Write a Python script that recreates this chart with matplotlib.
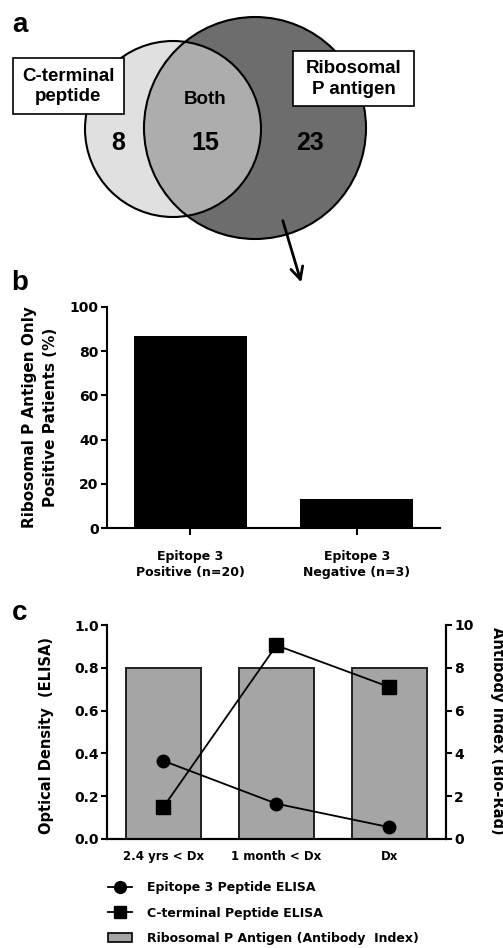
import numpy as np
import matplotlib.pyplot as plt
from matplotlib.patches import Circle, Rectangle, Patch
from matplotlib.lines import Line2D
from matplotlib.ticker import FormatStrFormatter

plt.rcParams['font.family'] = ['DejaVu Sans']
plt.rcParams['font.weight'] = 'bold'
venn_font = ['Liberation Sans', 'DejaVu Sans']

#__________________  DATA  _____________________#

venn_labels = ['C-terminal\npeptide', 'Ribosomal\nP antigen']
venn_counts = [8, 15, 23]   # C-terminal only, both, ribosomal P only

b_groups = ['Epitope 3\nPositive (n=20)', 'Epitope 3\nNegative (n=3)']
b_percent = [87, 13]

c_times = ['2.4 yrs < Dx', '1 month < Dx', 'Dx']
c_epitope3 = [0.365, 0.165, 0.055]
c_cterm = [0.15, 0.905, 0.71]
c_antibody_index = [8, 8, 8]

W, H = 503, 948
fig = plt.figure(figsize=(W / 100, H / 100), dpi=100)

#__________________  PANEL a : VENN  _____________________#

axa = fig.add_axes([0, 1 - 300 / H, 1, 300 / H])
axa.set_xlim(0, W)
axa.set_ylim(300, 0)
axa.axis('off')

c_left, r_left = (173, 129), 88
c_right, r_right = (255, 128), 111

right = Circle(c_right, r_right, fc='#6d6d6d', ec='none', zorder=1)
axa.add_patch(right)
axa.add_patch(Circle(c_left, r_left, fc='#e0e0e0', ec='none', zorder=2))
both = Circle(c_left, r_left, fc='#adadad', ec='none', zorder=3)
axa.add_patch(both)
both.set_clip_path(right)
axa.add_patch(Circle(c_right, r_right, fill=False, ec='black', lw=1.5, zorder=4))
axa.add_patch(Circle(c_left, r_left, fill=False, ec='black', lw=1.5, zorder=4))

axa.text(118, 143, str(venn_counts[0]), fontsize=18, family=venn_font,
         ha='center', va='center', zorder=6)
axa.text(205, 143, str(venn_counts[1]), fontsize=18, family=venn_font,
         ha='center', va='center', zorder=6)
axa.text(310, 143, str(venn_counts[2]), fontsize=18, family=venn_font,
         ha='center', va='center', zorder=6)
axa.text(205, 99, 'Both', fontsize=13.5, family=venn_font,
         ha='center', va='center', zorder=6)

axa.add_patch(Rectangle((13, 58), 111, 56, fc='white', ec='black', lw=1.2, zorder=5))
axa.text(68.5, 86.5, venn_labels[0], fontsize=13.5, family=venn_font,
         ha='center', va='center', linespacing=1.3, zorder=6)
axa.add_patch(Rectangle((293, 51), 121, 55, fc='white', ec='black', lw=1.2, zorder=5))
axa.text(353.5, 79, venn_labels[1], fontsize=13.5, family=venn_font,
         ha='center', va='center', linespacing=1.3, zorder=6)

axa.annotate('', xy=(302, 285), xytext=(282, 218),
             arrowprops=dict(arrowstyle='->', lw=2, color='black', mutation_scale=22),
             zorder=7)

fig.text(20 / W, 1 - 25 / H, 'a', fontsize=20, family=venn_font, ha='center', va='center')

#__________________  PANEL b  _____________________#

axb = fig.add_axes([107 / W, 1 - 528 / H, 333 / W, 221 / H])
xb = np.arange(len(b_groups))
axb.bar(xb, b_percent, width=0.68, color='black')
axb.set_xlim(-0.5, 1.5)
axb.set_ylim(0, 100)
axb.set_yticks(np.arange(0, 101, 20))
axb.set_xticks(xb, b_groups)
for lab in axb.get_xticklabels():
    lab.set_linespacing(1.3)
for s in ['top', 'right']:
    axb.spines[s].set_visible(False)
for s in ['left', 'bottom']:
    axb.spines[s].set_linewidth(1.5)
axb.tick_params(axis='y', length=4, width=1.5, labelsize=10, pad=2)
axb.tick_params(axis='x', length=5, width=1.5, labelsize=9, pad=11)

fig.text(40 / W, 1 - 417 / H, 'Ribosomal P Antigen Only\nPositive Patients (%)',
         rotation=90, fontsize=11, ha='center', va='center', linespacing=1.55)
fig.text(20 / W, 1 - 283 / H, 'b', fontsize=20, family=venn_font, ha='center', va='center')

#__________________  PANEL c  _____________________#

axc_r = fig.add_axes([107 / W, 1 - 839 / H, 339 / W, 214 / H])
xc = np.arange(len(c_times))
axc_r.bar(xc, c_antibody_index, width=0.67, color='#a5a5a5', edgecolor='#202020', lw=1.4)
axc_r.set_ylim(0, 10)
axc_r.set_xlim(-0.5, 2.5)
axc_r.set_xticks(xc, c_times)

axc = axc_r.twinx()
axc.plot(xc, c_epitope3, 'o-', color='black', ms=9, lw=1.3)
axc.plot(xc, c_cterm, 's-', color='black', ms=9.5, lw=1.3)
axc.set_ylim(0, 1)
axc.set_yticks(np.arange(0, 1.01, 0.2))
axc.yaxis.set_major_formatter(FormatStrFormatter('%.1f'))
axc.yaxis.tick_left()
axc_r.yaxis.tick_right()
axc_r.set_yticks(np.arange(0, 11, 2))

for a in (axc, axc_r):
    a.spines['top'].set_visible(False)
    for s in ['left', 'right', 'bottom']:
        a.spines[s].set_linewidth(1.5)
axc.tick_params(axis='y', length=4, width=1.5, labelsize=10, pad=2)
axc_r.tick_params(axis='y', length=4, width=1.5, labelsize=10, pad=2)
axc_r.tick_params(axis='x', length=0, labelsize=8.5, pad=8)

fig.text(47 / W, 1 - 735 / H, 'Optical Density  (ELISA)', rotation=90,
         fontsize=10.5, ha='center', va='center')
fig.text(497 / W, 1 - 731 / H, 'Antibody Index (Bio-Rad)', rotation=270,
         fontsize=10.5, ha='center', va='center')
fig.text(20 / W, 1 - 613 / H, 'c', fontsize=20, family=venn_font, ha='center', va='center')

handles = [Line2D([], [], color='black', marker='o', ms=8.5, lw=1.3),
           Line2D([], [], color='black', marker='s', ms=9, lw=1.3),
           Patch(fc='#a5a5a5', ec='black', lw=1.2)]
labels = ['Epitope 3 Peptide ELISA', 'C-terminal Peptide ELISA',
          'Ribosomal P Antigen (Antibody  Index)']
fig.legend(handles, labels, loc='upper left', bbox_to_anchor=(108 / W, 1 - 881 / H),
           frameon=False, fontsize=9, handlelength=1.9, handletextpad=1.2,
           labelspacing=1.0, borderpad=0, borderaxespad=0)

fig.savefig('out.png', dpi=100)
